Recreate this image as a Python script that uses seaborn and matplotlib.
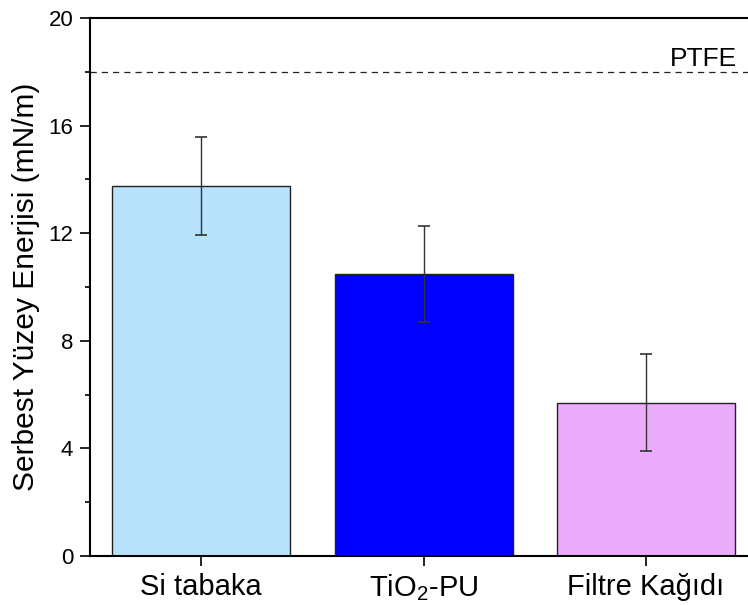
import numpy as np
import pandas as pd
import matplotlib
matplotlib.use('Agg')
import matplotlib.pyplot as plt
import seaborn as sns
from matplotlib.ticker import MultipleLocator

sns.set_style('ticks')
plt.rcParams['font.family'] = ['Liberation Sans', 'DejaVu Sans']
plt.rcParams['mathtext.fontset'] = 'custom'
plt.rcParams['mathtext.rm'] = 'Liberation Sans'
plt.rcParams['mathtext.it'] = 'Liberation Sans:italic'
plt.rcParams['text.color'] = 'black'
plt.rcParams['axes.labelcolor'] = 'black'
plt.rcParams['xtick.color'] = 'black'
plt.rcParams['ytick.color'] = 'black'

# data
samples = ['Si tabaka', 'TiO$_2$-PU', 'Filtre Kağıdı']
energy = [13.75, 10.48, 5.70]
energy_err = [1.82, 1.78, 1.80]
ptfe = 18.0
bar_colors = ['#B8E2FC', '#0000FF', '#EBADFB']

df = pd.DataFrame({'sample': samples, 'energy': energy})

fig = plt.figure(figsize=(7.48, 6.05), dpi=100)
ax = fig.add_axes([0.1203, 0.081, 0.892, 0.8892])

sns.barplot(data=df, x='sample', y='energy', hue='sample', palette=bar_colors,
            legend=False, width=0.8, edgecolor='#222222', linewidth=1.0,
            errorbar=None, ax=ax, saturation=1)
ax.errorbar(np.arange(len(samples)), energy, yerr=energy_err, fmt='none',
            ecolor='#333333', elinewidth=1.0, capsize=4, capthick=1.2)

ax.axhline(ptfe, color='#222222', lw=0.9, ls=(0, (5, 4)))
ax.text(2.26, ptfe + 0.22, 'PTFE', fontsize=19, ha='center', va='baseline')

ax.set_xlim(-0.5, 2.5)
ax.set_ylim(0, 20)
ax.yaxis.set_major_locator(MultipleLocator(4))
ax.yaxis.set_minor_locator(MultipleLocator(2))
ax.set_xlabel('')
ax.set_ylabel('Serbest Yüzey Enerjisi (mN/m)', fontsize=21.5, labelpad=6)
ax.tick_params(axis='y', which='major', length=7, width=1.2, labelsize=16, pad=5)
ax.tick_params(axis='y', which='minor', length=3.5, width=1.2)
ax.tick_params(axis='x', which='major', length=7, width=1.2, labelsize=21, pad=5)
for sp in ax.spines.values():
    sp.set_linewidth(1.5)
    sp.set_color('black')

fig.savefig('out.png', dpi=100)
